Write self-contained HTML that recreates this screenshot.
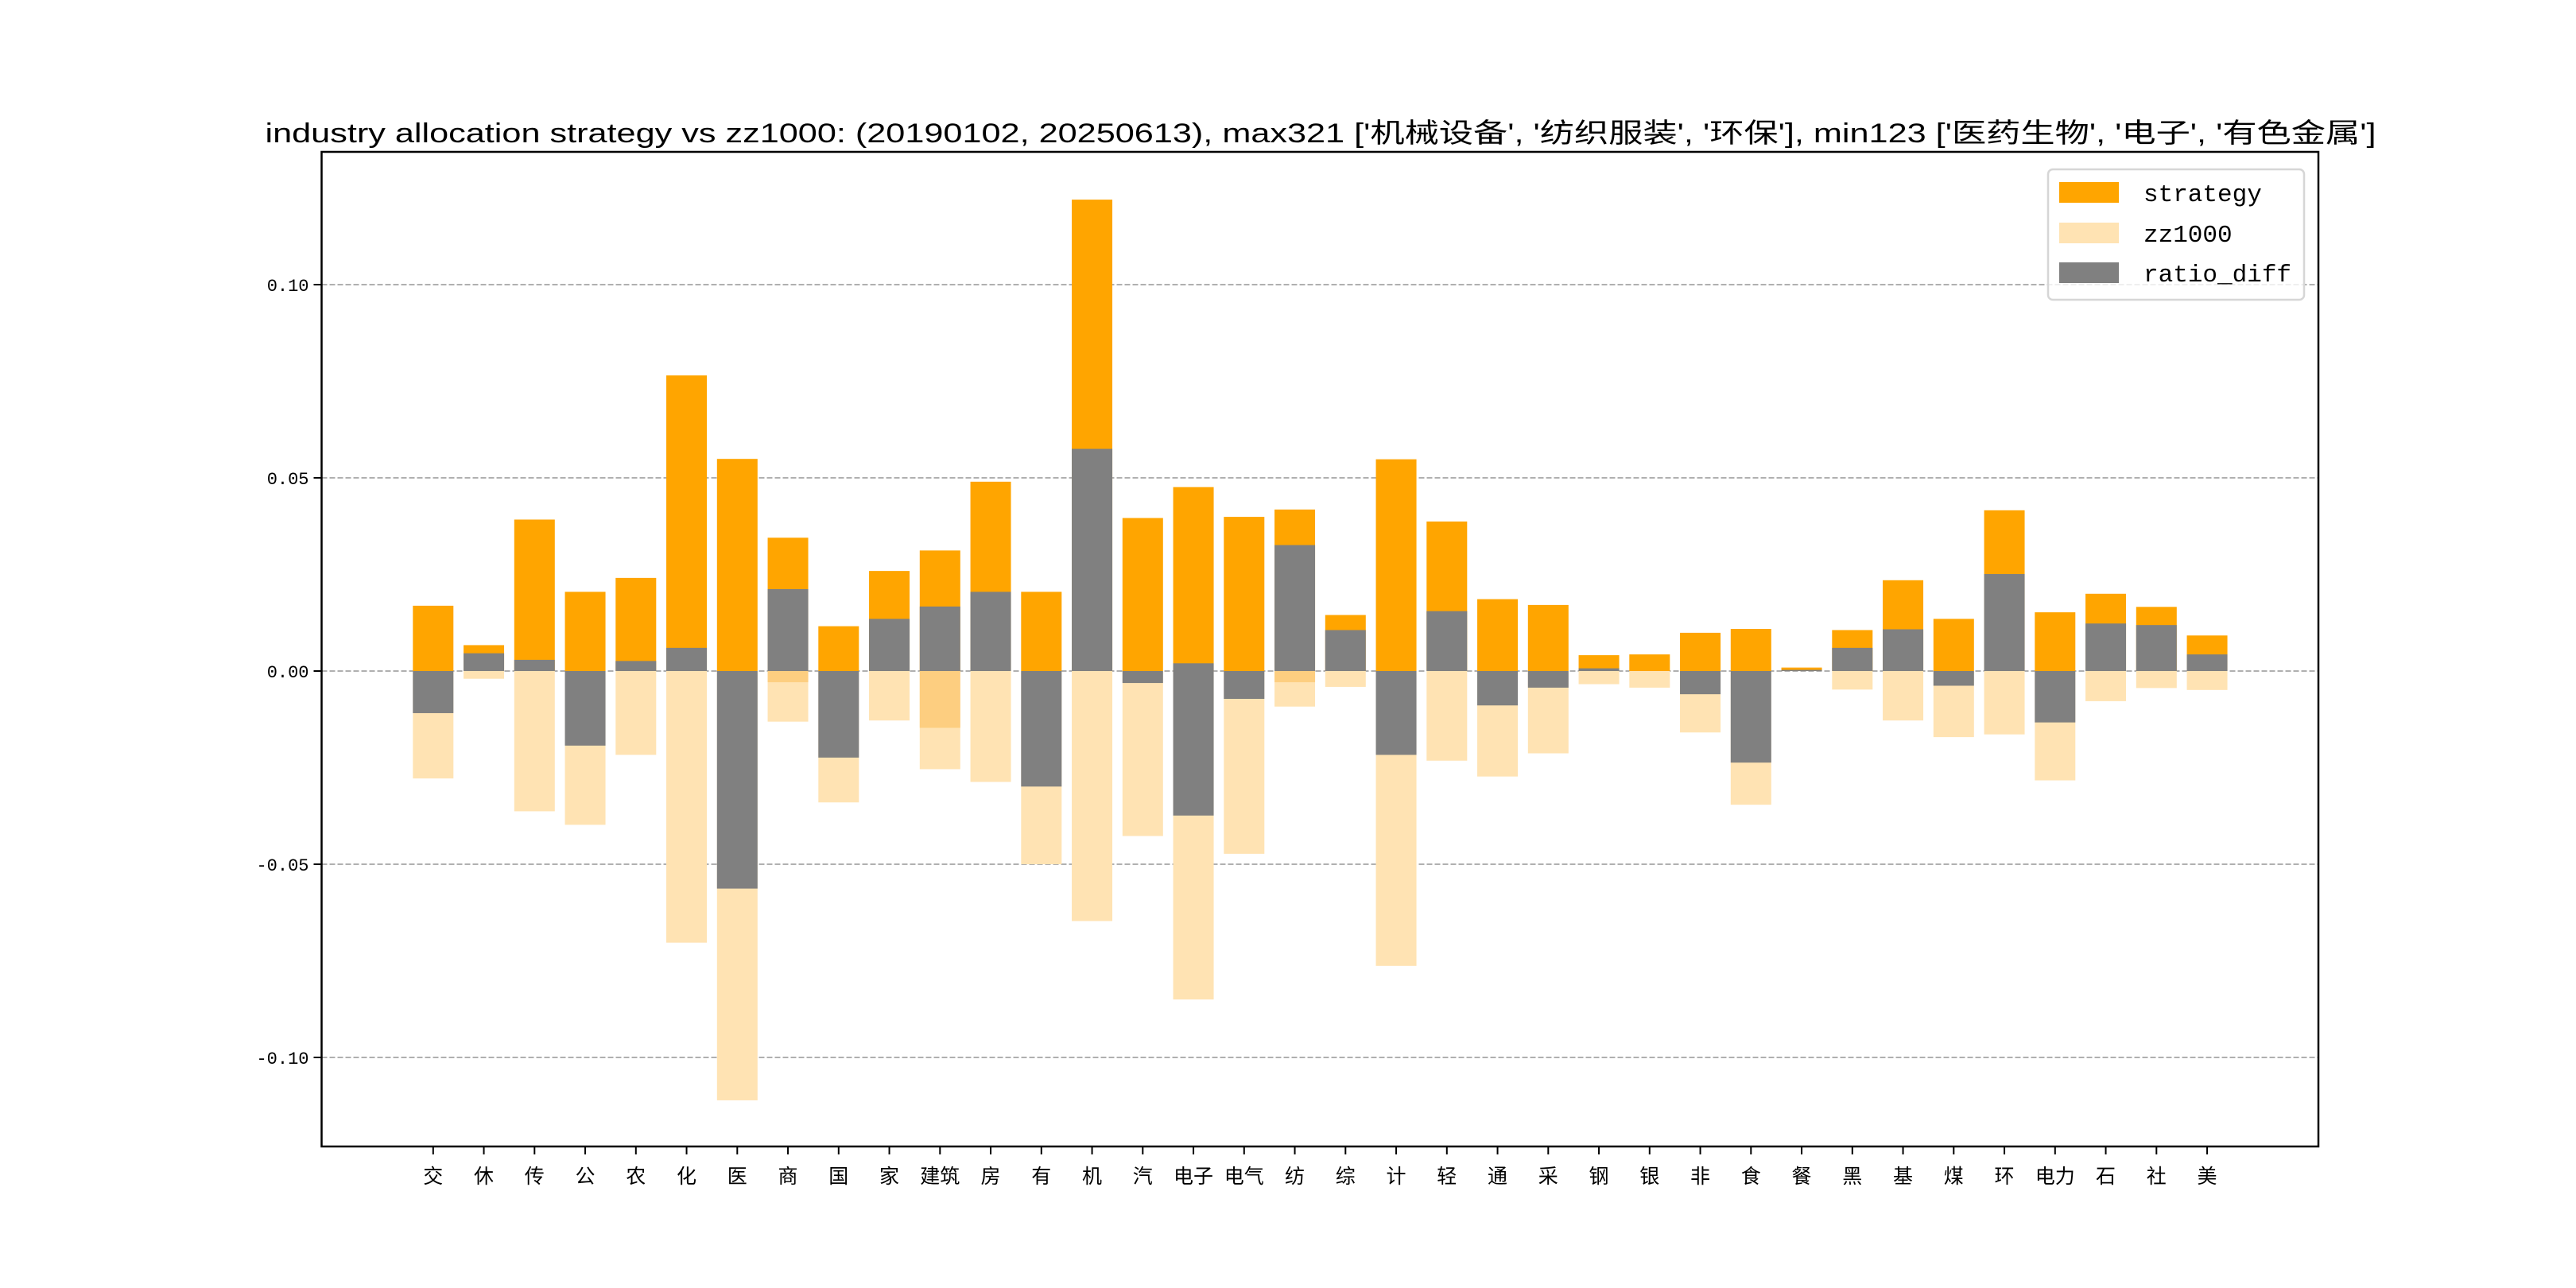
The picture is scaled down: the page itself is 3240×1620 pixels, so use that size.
<!DOCTYPE html>
<html><head><meta charset="utf-8"><style>
html,body{margin:0;padding:0;background:#fff;}
svg{display:block;}
text{font-family:"Liberation Sans","WenQuanYi Zen Hei","Noto Sans CJK SC",sans-serif;}
text.mono{font-family:"Liberation Mono","WenQuanYi Zen Hei",monospace;}
</style></head><body>
<svg id="chart" width="3240" height="1620" viewBox="0 0 3240 1620" xmlns="http://www.w3.org/2000/svg">
<rect x="0" y="0" width="3240" height="1620" fill="#fff"/>
<text x="1661" y="179" text-anchor="middle" font-size="34" textLength="2655" lengthAdjust="spacingAndGlyphs" fill="#000">industry allocation strategy vs zz1000: (20190102, 20250613), max321 ['机械设备', '纺织服装', '环保'], min123 ['医药生物', '电子', '有色金属']</text>
<g id="grid"></g>
<g id="bars"></g>
<g id="axes"></g>
<g id="legend">
<rect x="2576" y="213" width="322" height="164" rx="6" fill="#fff" fill-opacity="0.8" stroke="#d6d6d6" stroke-width="2.5"/>
<rect x="2590" y="229" width="75" height="26" fill="#FFA500"/>
<text class="mono" x="2696" y="253" font-size="31" fill="#000">strategy</text>
<rect x="2590" y="280" width="75" height="26" fill="#FFE3B3"/>
<text class="mono" x="2696" y="304" font-size="31" fill="#000">zz1000</text>
<rect x="2590" y="330" width="75" height="26" fill="#808080"/>
<text class="mono" x="2696" y="354" font-size="31" fill="#000">ratio_diff</text>
</g>
</svg>
<script>
const categories = ["交","休","传","公","农","化","医","商","国","家","建筑","房","有","机","汽","电子","电气","纺","综","计","轻","通","采","钢","银","非","食","餐","黑","基","煤","环","电力","石","社","美"];
const strategyVals = [0.0169,0.0067,0.0392,0.0205,0.0241,0.0765,0.0549,0.0345,0.0116,0.0259,0.0312,0.0490,0.0205,0.1220,0.0396,0.0476,0.0399,0.0418,0.0145,0.0548,0.0387,0.0186,0.0171,0.0041,0.0043,0.0099,0.0109,0.0009,0.0106,0.0235,0.0135,0.0416,0.0152,0.0200,0.0166,0.0092];
const zz1000Vals = [-0.0278,-0.0020,-0.0363,-0.0398,-0.0217,-0.0703,-0.1111,-0.0131,-0.0340,-0.0128,-0.0254,-0.0287,-0.0500,-0.0647,-0.0427,-0.0850,-0.0473,-0.0092,-0.0041,-0.0763,-0.0232,-0.0273,-0.0213,-0.0034,-0.0043,-0.0159,-0.0346,0,-0.0048,-0.0128,-0.0171,-0.0164,-0.0283,-0.0078,-0.0044,-0.0049];
const zz1000Overlap = [0,0,0,0,0,0,0,-0.0029,0,0,-0.0147,0,0,0,0,0,0,-0.0029,0,0,0,0,0,0,0,0,0,0,0,0,0,0,0,0,0,0];
const diffVals = [-0.0109,0.0046,0.0029,-0.0193,0.0026,0.0060,-0.0563,0.0212,-0.0224,0.0135,0.0167,0.0205,-0.0299,0.0575,-0.0031,-0.0374,-0.0072,0.0326,0.0106,-0.0217,0.0155,-0.0089,-0.0043,0.0007,0,-0.0060,-0.0237,0.0003,0.0060,0.0108,-0.0038,0.0251,-0.0133,0.0123,0.0119,0.0043];
const diffVals2 = [0,0,0,0,0,0,0,0,0,0,0,0,0,0,0,0.0020,0,0,0,0,0,0,0,0,0,0,0,0,0,0,0,0,0,0,0,0];
const yTicks = [0.10,0.05,0.00,-0.05,-0.10];
const yTickLabels = ["0.10","0.05","0.00","-0.05","-0.10"];

const NS="http://www.w3.org/2000/svg";
const PL=404.5, PR=2916, PT=191, PB=1442;
const X0=544.8, STEP=63.75, BW=51;
function xScale(i){return X0+i*STEP;}
function yScale(v){return 844 - v*4860;}
function mk(tag, attrs, parent){const e=document.createElementNS(NS,tag);for(const k in attrs)e.setAttribute(k,attrs[k]);parent.appendChild(e);return e;}
const grid=document.getElementById('grid'), bars=document.getElementById('bars'), axes=document.getElementById('axes');

yTicks.forEach((t,i)=>{
  const y=yScale(t);
  const gl=mk('line',{x1:PL,x2:PR,y1:y,y2:y,stroke:'#b0b0b0','stroke-width':2,'stroke-dasharray':'7,3'},grid);
  
  
  const tk=mk('line',{x1:PL-10,x2:PL,y1:y,y2:y,stroke:'#000','stroke-width':2},axes);
  
  
  const tl=mk('text',{x:PL-16,y:y+8,'text-anchor':'end','font-size':22,fill:'#000','class':'mono'},axes);
  tl.textContent=yTickLabels[i];
  
  
});

function bar(i,v0,v1,color,name){
  const ya=yScale(Math.max(v0,v1)), yb=yScale(Math.min(v0,v1));
  const r=mk('rect',{x:xScale(i)-BW/2,y:ya,width:BW,height:Math.max(0,yb-ya),fill:color},bars);
  
  
}
categories.forEach((c,i)=>{
  bar(i,0,strategyVals[i],'#FFA500','bar-strategy');
  bar(i,0,zz1000Vals[i],'#FFE3B3','bar-zz1000');
  if(zz1000Overlap[i]!==0) bar(i,0,zz1000Overlap[i],'#FDCE80','bar-zz1000-overlap');
  bar(i,0,diffVals[i],'#808080','bar-ratio-diff');
  if(diffVals2[i]!==0) bar(i,0,diffVals2[i],'#808080','bar-ratio-diff-2');
  const x=xScale(i);
  const tk=mk('line',{x1:x,x2:x,y1:PB,y2:PB+10,stroke:'#000','stroke-width':2},axes);
  
  
  const tl=mk('text',{x:x,y:1488,'text-anchor':'middle','font-size':25,fill:'#000'},axes);
  tl.textContent=c;
  
  
});
const frame=mk('rect',{x:PL,y:PT,width:PR-PL,height:PB-PT,fill:'none',stroke:'#000','stroke-width':2.5},axes);


</script>
</body></html>
